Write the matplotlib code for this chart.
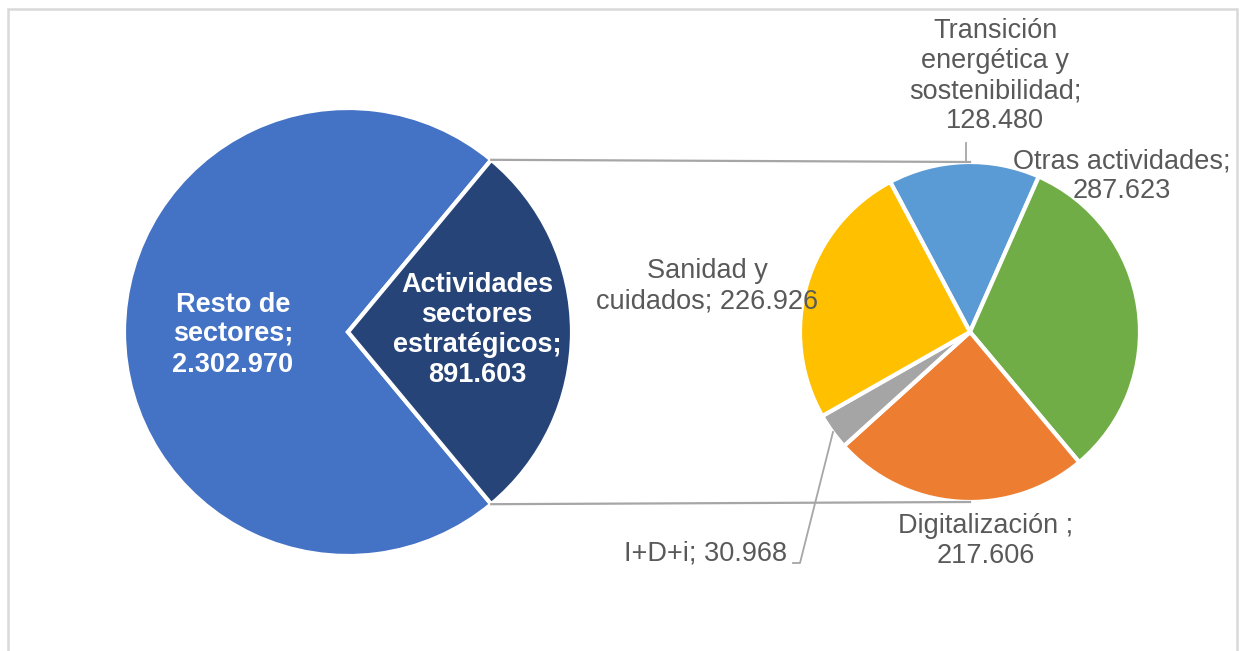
import numpy as np
import matplotlib
matplotlib.use("Agg")
import matplotlib.pyplot as plt
from matplotlib.patches import Rectangle

plt.rcParams['font.family'] = ['Liberation Sans', 'DejaVu Sans']

# datos
main_labels = ["Resto de\nsectores;\n2.302.970", "Actividades\nsectores\nestratégicos;\n891.603"]
main_values = [2302970, 891603]
main_colors = ["#4472C4", "#264478"]

sub_names = ["Transición\nenergética y\nsostenibilidad;\n128.480", "Otras actividades;\n287.623",
             "Digitalización ;\n217.606", "I+D+i; 30.968", "Sanidad y\ncuidados; 226.926"]
sub_values = [128480, 287623, 217606, 30968, 226926]
sub_colors = ["#5B9BD5", "#70AD47", "#ED7D31", "#A5A5A5", "#FFC000"]

W, H = 1240, 651
fig = plt.figure(figsize=(12.4, 6.51), dpi=100)
ax = fig.add_axes([0, 0, 1, 1])

# pie principal
c1 = (348, 319)
r1 = 224
frac = main_values[1] / sum(main_values)
half = frac * 180
ax.pie(main_values, colors=main_colors, startangle=half, center=c1, radius=r1,
       wedgeprops=dict(edgecolor='white', linewidth=3), frame=True)

# pie secundario
c2 = (970, 319)
r2 = 170
ax.pie(sub_values, colors=sub_colors, startangle=118, counterclock=False, center=c2, radius=r2,
       wedgeprops=dict(edgecolor='white', linewidth=3), frame=True)
ax.set_xlim(0, W)
ax.set_ylim(0, H)
ax.set_aspect('equal')
ax.axis('off')

# lineas de conexion
lc = '#A6A6A6'
th = np.radians(half)
ax.plot([c1[0] + r1 * np.cos(th), c2[0]], [c1[1] + r1 * np.sin(th), c2[1] + r2], color=lc, lw=1.6)
ax.plot([c1[0] + r1 * np.cos(th), c2[0]], [c1[1] - r1 * np.sin(th), c2[1] - r2], color=lc, lw=1.6)

# textos pie principal
fs = 19.5
bold = dict(color='white', fontsize=fs, fontweight='bold', ha='center', va='center', linespacing=1.2)
ax.text(233, 316, main_labels[0], **bold)
ax.text(477, 321, main_labels[1], **bold)

# textos pie secundario
reg = dict(color='#595959', fontsize=fs, ha='center', va='center', linespacing=1.2)
ax.text(995, 575, sub_names[0], **reg)
ax.text(1122, 475, sub_names[1], **reg)
ax.text(986, 110, sub_names[2], **reg)
ax.text(787, 98, sub_names[3], color='#595959', fontsize=fs, ha='right', va='center')
ax.text(707, 365, sub_names[4], **reg)

# lineas guia
ax.plot([966, 966], [508, 490], color=lc, lw=1.3)
ax.plot([833, 800, 793], [219, 88, 88], color=lc, lw=1.3)

# borde
fig.patches.append(Rectangle((8 / W, -0.05), 1229 / W, 1 - 9 / H + 0.05, transform=fig.transFigure,
                             fill=False, edgecolor='#D9D9D9', linewidth=1.8))

fig.savefig("out.png", dpi=100)
